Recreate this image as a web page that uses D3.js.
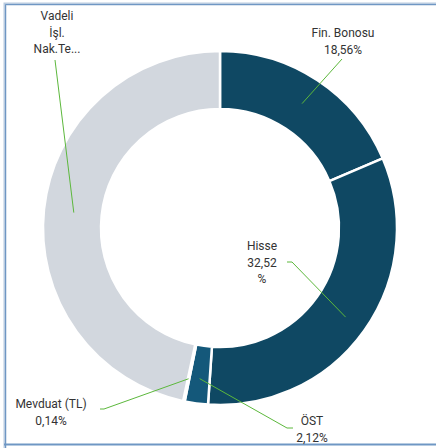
<!DOCTYPE html>
<html>
<head>
<meta charset="utf-8">
<script src="https://cdn.jsdelivr.net/npm/d3@7"></script>
<style>
    html, body { margin: 0; padding: 0; background: #fff; }
    svg { display: block; }
    text { font-family: "Roboto", "Liberation Sans", sans-serif; font-size: 12px; fill: #333; }
</style>
</head>
<body>
<div id="chart"></div>
<script>
(function(d3) {

    "use strict";

    // slice data, clockwise from 12 o'clock
    var categories = ["Fin. Bonosu", "Hisse", "ÖST", "Mevduat (TL)", "Vadeli İşl. Nak.Teminatı"];
    var values = [18.56, 32.52, 2.12, 0.14, 46.66];
    var labelLines = [
        ["Fin. Bonosu", "18,56%"],
        ["Hisse", "32,52", "%"],
        ["ÖST", "2,12%"],
        ["Mevduat (TL)", "0,14%"],
        ["Vadeli", "İşl.", "Nak.Te..."]
    ];
    var colors = ["#0f4863", "#0f4863", "#14587a", "#14587a", "#d2d7de"];

    // label placement (label centre x / first line y) and leader elbow, relative to svg
    var labelPos = [
        { x: 343, y: 37, line: [[342, 59], [342, 59]] },
        { x: 262, y: 250, line: [[287, 262], [292, 262]] },
        { x: 312, y: 425, line: [[293, 428], [287, 428]] },
        { x: 51, y: 408, line: [[100, 409], [104, 409]] },
        { x: 57, y: 20, line: [[55, 60], [55, 60]] }
    ];

    var width = 436,
        height = 448,
        cx = 220,
        cy = 228,
        outerR = 177,
        innerR = 119;

    var svg = d3.select("#chart")
        .append("svg")
        .attr("width", width)
        .attr("height", height);

    // frame
    svg.append("path")
        .attr("d", "M5,448 V4 H436")
        .attr("fill", "none")
        .attr("stroke", "#b9cbe0")
        .attr("stroke-width", 3);
    svg.append("path")
        .attr("d", "M5.5,448 V4.5 H436")
        .attr("fill", "none")
        .attr("stroke", "#6f97c4")
        .attr("stroke-width", 1);
    svg.append("line")
        .attr("x1", 4).attr("x2", 436)
        .attr("y1", 444.5).attr("y2", 444.5)
        .attr("stroke", "#6f97c4")
        .attr("stroke-width", 2);

    var data = categories.map(function(c, i) {
        return { name: c, value: values[i], lines: labelLines[i], color: colors[i], pos: labelPos[i] };
    });

    var pie = d3.pie()
        .sort(null)
        .value(function(d) { return d.value; });

    var arc = d3.arc()
        .innerRadius(innerR)
        .outerRadius(outerR);

    var midArc = d3.arc()
        .innerRadius(innerR + (outerR - innerR) * 0.3)
        .outerRadius(innerR + (outerR - innerR) * 0.3);

    var g = svg.append("g")
        .attr("transform", "translate(" + cx + "," + cy + ")");

    var arcs = pie(data);

    g.selectAll(".slice")
        .data(arcs)
        .enter()
        .append("path")
        .attr("class", "slice")
        .attr("d", arc)
        .attr("fill", function(d) { return d.data.color; })
        .attr("stroke", "#fff")
        .attr("stroke-width", 2.5);

    // leader lines: from label elbow to a point inside the slice
    var leaderR = [
        innerR + 30,
        innerR + 35,
        innerR + 33,
        innerR + 35,
        innerR + 28
    ];

    svg.selectAll(".leader")
        .data(arcs)
        .enter()
        .append("polyline")
        .attr("class", "leader")
        .attr("fill", "none")
        .attr("stroke", "#5cb83c")
        .attr("stroke-width", 1)
        .attr("points", function(d, i) {
            var a = (d.startAngle + d.endAngle) / 2;
            var r = leaderR[i];
            var px = cx + r * Math.sin(a),
                py = cy - r * Math.cos(a);
            var p = d.data.pos.line;
            return [p[0], p[1], [px, py]].map(function(q) { return q.join(","); }).join(" ");
        });

    var labels = svg.selectAll(".label")
        .data(data)
        .enter()
        .append("text")
        .attr("class", "label")
        .attr("text-anchor", "middle")
        .attr("x", function(d) { return d.pos.x; })
        .attr("y", function(d) { return d.pos.y; });

    labels.selectAll("tspan")
        .data(function(d) { return d.lines.map(function(l) { return { t: l, x: d.pos.x }; }); })
        .enter()
        .append("tspan")
        .attr("x", function(d) { return d.x; })
        .attr("dy", function(d, i) { return i === 0 ? 0 : 16.5; })
        .text(function(d) { return d.t; });

})(d3);
</script>
</body>
</html>
